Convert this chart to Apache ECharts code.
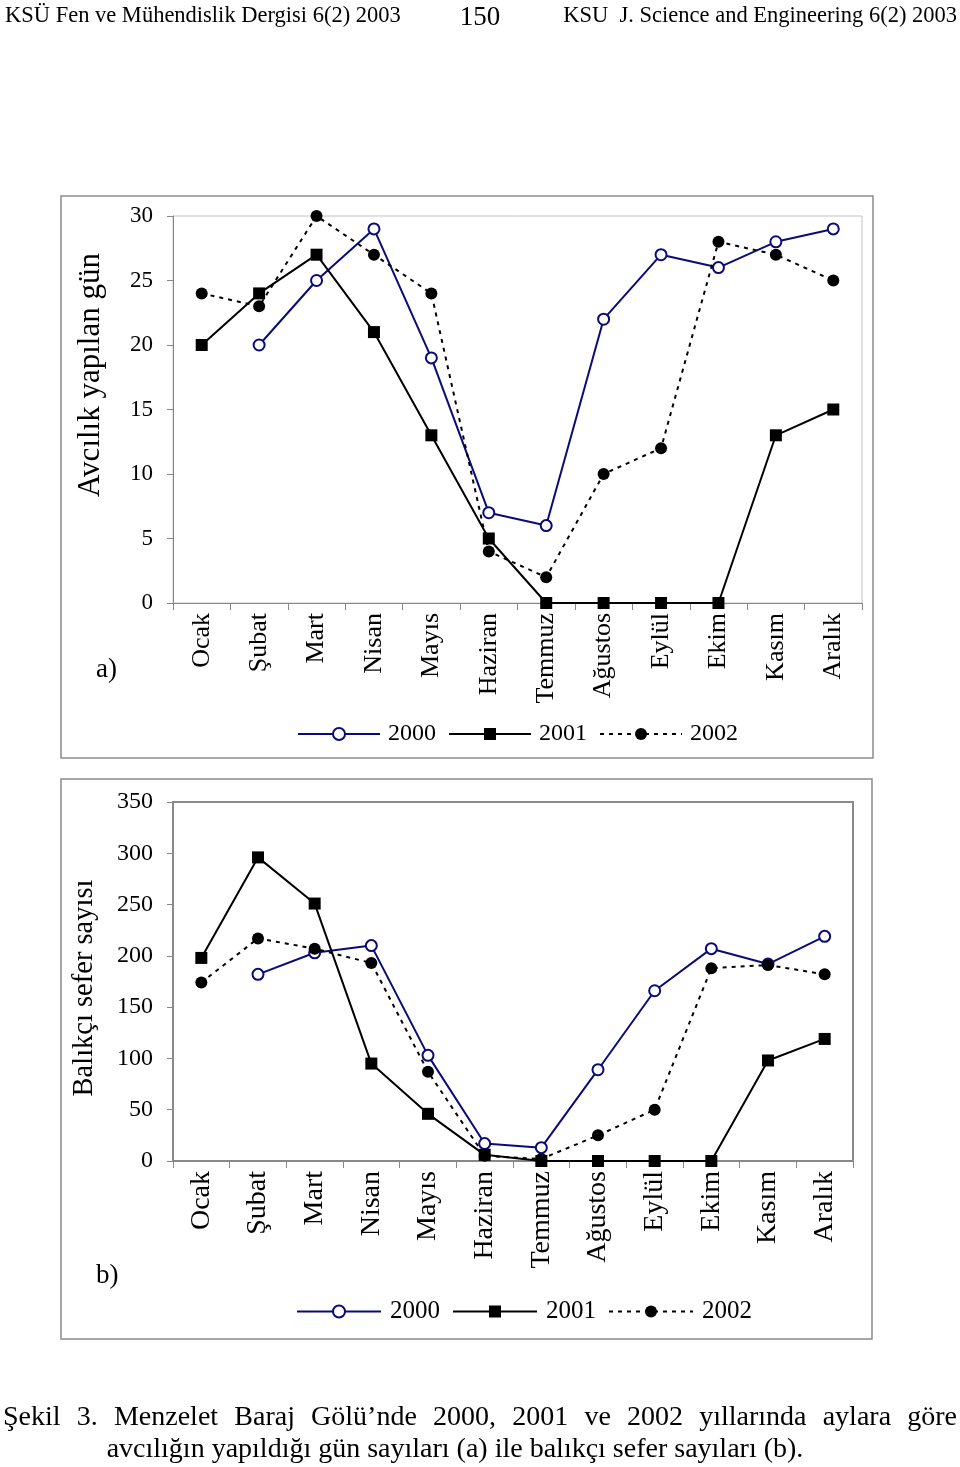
<!DOCTYPE html>
<html><head><meta charset="utf-8">
<script src="https://cdn.jsdelivr.net/npm/echarts@6/dist/echarts.min.js"></script>
<style>html,body{margin:0;padding:0;background:#fff}#c{width:960px;height:1467px}</style>
</head><body><div id="c"></div>
<script>
const months = ['Ocak','Şubat','Mart','Nisan','Mayıs','Haziran','Temmuz','Ağustos','Eylül','Ekim','Kasım','Aralık'];
const seriesNames = ['2000','2001','2002'];
// (a) fishing days
const days2000 = [null,20,25,29,19,7,6,22,27,26,28,29];
const days2001 = [20,24,27,21,13,5,0,0,0,0,13,15];
const days2002 = [24,23,30,27,24,4,2,10,12,28,27,25];
// (b) fisher trips
const trips2000 = [null,182,203,210,103,17,13,89,166,207,192,219];
const trips2001 = [198,296,251,95,46,6,0,0,0,0,98,119];
const trips2002 = [174,217,207,193,87,5,2,25,50,188,191,182];
const yTicksA = {min:0, max:30, interval:5};
const yTicksB = {min:0, max:350, interval:50};
const header = ['KSÜ Fen ve Mühendislik Dergisi 6(2) 2003','150','KSU  J. Science and Engineering 6(2) 2003'];
const titleA = 'Avcılık yapılan gün';
const titleB = 'Balıkçı sefer sayısı';
const caption1 = 'Şekil 3. Menzelet Baraj Gölü’nde 2000, 2001 ve 2002 yıllarında aylara göre';
const caption2 = 'avcılığın yapıldığı gün sayıları (a) ile balıkçı sefer sayıları (b).';

const FF = '"Liberation Serif", "Times New Roman", serif';
const NAVY = '#0a0a78';

function styleFor(idx){
  if(idx===0) return {symbol:'circle', symbolSize:11, itemStyle:{color:'#fff', borderColor:NAVY, borderWidth:2}, lineStyle:{color:NAVY, width:2}};
  if(idx===1) return {symbol:'rect', symbolSize:12, itemStyle:{color:'#000'}, lineStyle:{color:'#000', width:2}};
  return {symbol:'circle', symbolSize:12, itemStyle:{color:'#000'}, lineStyle:{color:'#000', width:2, type:[4,5]}};
}
function mk(name, data, idx, gi){
  const s = styleFor(idx);
  return Object.assign({type:'line', name:name, data:data, xAxisIndex:gi, yAxisIndex:gi, connectNulls:false, z: 3+idx, emphasis:{disabled:true}}, s);
}

// caption justification
const cv = document.createElement('canvas').getContext('2d');
cv.font = '28px "Liberation Serif"';
const words = caption1.split(' ');
const wWidths = words.map(w=>cv.measureText(w).width);
const totalW = wWidths.reduce((a,b)=>a+b,0);
const L=3, R=957;
const gap = (R-L-totalW)/(words.length-1);
const capEls = [];
let cx = L;
words.forEach((w,i)=>{ capEls.push({type:'text', x:cx, y:1418, style:{text:w, font:'28px '+FF, fill:'#000', textAlign:'left', textVerticalAlign:'middle'}}); cx += wWidths[i]+gap; });

const catAxis = (gi, fs, margin)=>({type:'category', gridIndex:gi, data:months, boundaryGap:true,
  axisLine:{lineStyle:{color:'#888', width: gi? 2:1}}, axisTick:{show:true, length:7, lineStyle:{color:'#888'}, alignWithLabel:false},
  axisLabel:{rotate:90, margin:margin, color:'#000', fontFamily:FF, fontSize:fs, interval:0}});
const valAxis = (gi, t, fs)=>({type:'value', gridIndex:gi, min:t.min, max:t.max, interval:t.interval,
  axisLine:{show:true, lineStyle:{color:'#888', width: gi? 2:1}}, axisTick:{show:true, length:6, lineStyle:{color:'#888'}},
  splitLine:{show:false}, axisLabel:{color:'#000', fontFamily:FF, fontSize:fs, margin:20}});

const chart = echarts.init(document.getElementById('c'), null, {renderer:'canvas', width:960, height:1467});
chart.setOption({
  animation:false,
  backgroundColor:'#fff',
  grid:[
    {left:173, top:216, width:689, height:387, show:true, borderColor:'#c4c4c4', borderWidth:1, backgroundColor:'transparent'},
    {left:173, top:802, width:680, height:359, show:true, borderColor:'#8a8a8a', borderWidth:2, backgroundColor:'transparent'}
  ],
  xAxis:[catAxis(0,26,10), catAxis(1,28,10)],
  yAxis:[valAxis(0,yTicksA,23), valAxis(1,yTicksB,24)],
  legend:[
    {data:seriesNames, left:297, top:722, padding:0, itemWidth:82, itemHeight:15, itemGap:12, textStyle:{fontFamily:FF, fontSize:24, color:'#000', padding:[0,0,0,3]}, selectedMode:false},
    {data:seriesNames, left:296, top:1299, padding:0, itemWidth:84, itemHeight:15, itemGap:12, textStyle:{fontFamily:FF, fontSize:25, color:'#000', padding:[0,0,0,4]}, selectedMode:false}
  ],
  series:[
    mk('2000', days2000, 0, 0), mk('2001', days2001, 1, 0), mk('2002', days2002, 2, 0),
    mk('2000', trips2000, 0, 1), mk('2001', trips2001, 1, 1), mk('2002', trips2002, 2, 1)
  ],
  graphic:[
    {type:'rect', shape:{x:61, y:196, width:812, height:562}, style:{fill:'none', stroke:'#8c8c8c', lineWidth:1.5}, z:-1},
    {type:'rect', shape:{x:61, y:779, width:811, height:560}, style:{fill:'none', stroke:'#8c8c8c', lineWidth:1.5}, z:-1},
    {type:'text', x:5, y:16, style:{text:header[0], font:'22.5px '+FF, fill:'#000', textAlign:'left', textVerticalAlign:'middle'}},
    {type:'text', x:480, y:18, style:{text:header[1], font:'27px '+FF, fill:'#000', textAlign:'center', textVerticalAlign:'middle'}},
    {type:'text', x:957, y:16, style:{text:header[2], font:'22.5px '+FF, fill:'#000', textAlign:'right', textVerticalAlign:'middle'}},
    {type:'text', x:91, y:375, rotation:Math.PI/2, style:{text:titleA, font:'31px '+FF, fill:'#000', textAlign:'center', textVerticalAlign:'middle'}},
    {type:'text', x:85, y:988, rotation:Math.PI/2, style:{text:titleB, font:'28.5px '+FF, fill:'#000', textAlign:'center', textVerticalAlign:'middle'}},
    {type:'text', x:96, y:670, style:{text:'a)', font:'27px '+FF, fill:'#000', textAlign:'left', textVerticalAlign:'middle'}},
    {type:'text', x:96, y:1276, style:{text:'b)', font:'27px '+FF, fill:'#000', textAlign:'left', textVerticalAlign:'middle'}},
    ...capEls,
    {type:'text', x:455, y:1450, style:{text:caption2, font:'28px '+FF, fill:'#000', textAlign:'center', textVerticalAlign:'middle'}}
  ]
});
</script></body></html>
